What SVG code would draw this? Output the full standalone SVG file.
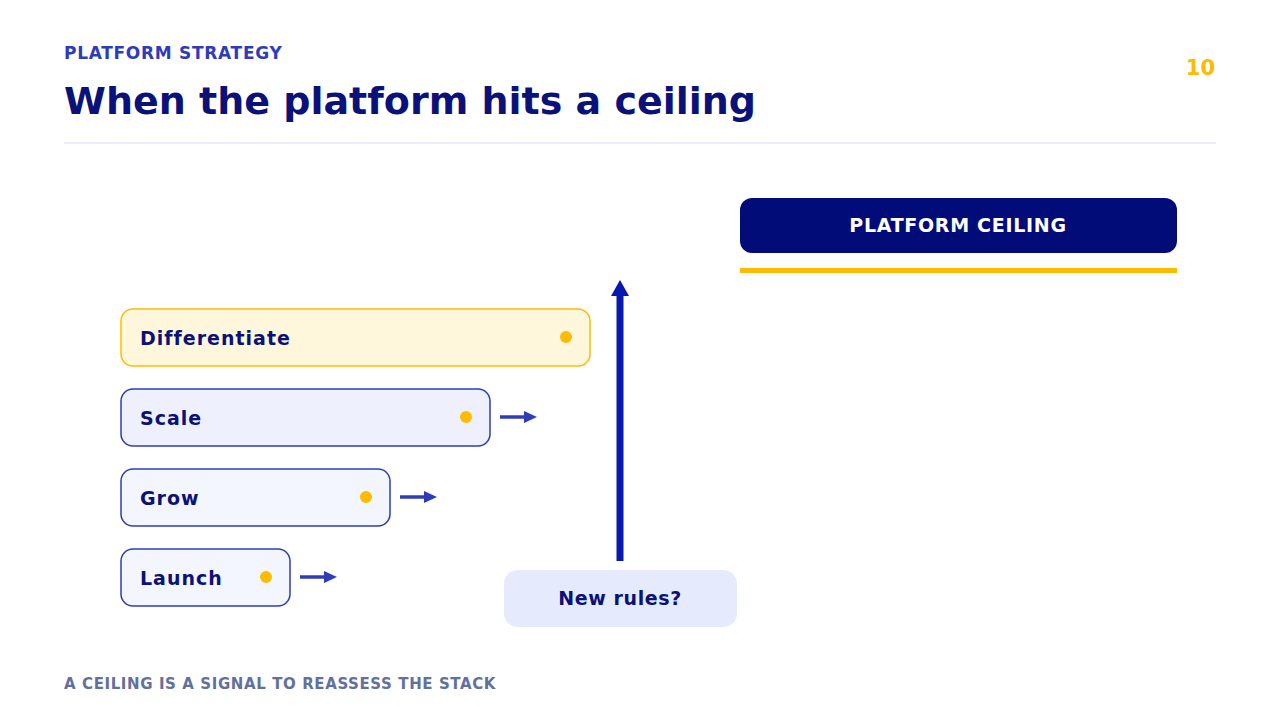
<svg xmlns="http://www.w3.org/2000/svg" width="1280" height="720" viewBox="0 0 1280 720">
<style>
text{font-family:"DejaVu Sans",sans-serif;font-weight:bold}
.step{fill:#f3f6fe;stroke:#2e3cbc;stroke-width:1.5}
.lbl{fill:#0a1178;font-size:19px;letter-spacing:1px}
.dot{fill:#ffbb00}
.conn{stroke:#2e3cbc;stroke-width:3.5}
</style>
<defs>
<marker id="ah" markerWidth="13" markerHeight="12" refX="0" refY="6" orient="auto" markerUnits="userSpaceOnUse"><path d="M0,0L13,6L0,12z" fill="#2e3cbc"/></marker>
</defs>
<rect width="1280" height="720" fill="#fff"/>
<text x="64" y="59" font-size="17" fill="#2e3cbc" letter-spacing="0.7">PLATFORM STRATEGY</text>
<text x="64" y="114" font-size="38" fill="#0a1178">When the platform hits a ceiling</text>
<text x="1215" y="75" font-size="21" fill="#ffbb00" text-anchor="end">10</text>
<line x1="64" y1="143" x2="1216" y2="143" stroke="#e4e6fb" stroke-width="1.5"/>
<g id="ceiling">
<rect x="740" y="198" width="437" height="55" rx="12" fill="#020c78"/>
<text x="958" y="232" font-size="19" fill="#fff" text-anchor="middle" letter-spacing="0.7">PLATFORM CEILING</text>
<rect x="740" y="268" width="437" height="5" fill="#ffbb00"/>
</g>
<g id="differentiate">
<rect x="121" y="309" width="469" height="57" rx="12" fill="#fff7dc" stroke="#ffbb00" stroke-width="1.5"/>
<text x="140" y="345" class="lbl">Differentiate</text>
<circle cx="566" cy="337" r="6" class="dot"/>
</g>
<g id="scale">
<rect x="121" y="389" width="369" height="57" rx="12" class="step" style="fill:#eef0fd"/>
<text x="140" y="425" class="lbl">Scale</text>
<circle cx="466" cy="417" r="6" class="dot"/>
</g>
<g id="grow">
<rect x="121" y="469" width="269" height="57" rx="12" class="step"/>
<text x="140" y="505" class="lbl">Grow</text>
<circle cx="366" cy="497" r="6" class="dot"/>
</g>
<g id="launch">
<rect x="121" y="549" width="169" height="57" rx="12" class="step"/>
<text x="140" y="585" class="lbl">Launch</text>
<circle cx="266" cy="577" r="6" class="dot"/>
</g>
<g id="newrules">
<rect x="504" y="570" width="233" height="57" rx="14" fill="#e6eafd"/>
<text x="620" y="605" font-size="19" fill="#0a1178" text-anchor="middle" letter-spacing="0.6">New rules?</text>
</g>
<g id="connectors">
<line x1="500" y1="417" x2="524" y2="417" class="conn" marker-end="url(#ah)"/>
<line x1="400" y1="497" x2="424" y2="497" class="conn" marker-end="url(#ah)"/>
<line x1="300" y1="577" x2="324" y2="577" class="conn" marker-end="url(#ah)"/>
<line x1="620" y1="561" x2="620" y2="295" stroke="#0818b0" stroke-width="7"/>
<path d="M611,296L620,280L629,296z" fill="#0818b0"/>
</g>
<text x="64" y="689" font-size="15" fill="#62709e" letter-spacing="0.6">A CEILING IS A SIGNAL TO REASSESS THE STACK</text>
</svg>
